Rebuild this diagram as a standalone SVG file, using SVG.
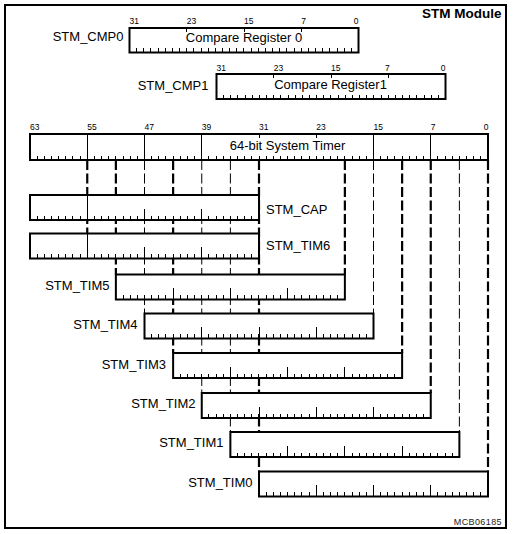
<svg xmlns="http://www.w3.org/2000/svg" xmlns:xlink="http://www.w3.org/1999/xlink" width="515" height="534" viewBox="0 0 515 534">
<style>
text{font-family:"Liberation Sans",Arial,sans-serif;fill:#000}
.lbl{font-size:13px}
.reg{font-size:13px;text-anchor:middle}
.bit{font-size:8.5px}
.end{text-anchor:end}
.box{fill:#fff;stroke:#000;stroke-width:2}
.tk{fill:none;stroke:#000;stroke-width:1;shape-rendering:crispEdges}
.dthick{fill:none;stroke:#000;stroke-width:2.2;stroke-dasharray:10 3.5}
.dthin{fill:none;stroke:#000;stroke-width:1;stroke-dasharray:10 3.5}
</style>
<defs>
<path id="tk32" class="tk" d="M7.156,0v-4.5m7.156,4.5v-4.5m7.156,4.5v-4.5m7.156,4.5v-4.5m7.156,4.5v-4.5m7.156,4.5v-4.5m7.156,4.5v-4.5m7.156,4.5v-4.5m7.156,4.5v-4.5m7.156,4.5v-4.5m7.156,4.5v-4.5m7.156,4.5v-4.5m7.156,4.5v-4.5m7.156,4.5v-4.5m7.156,4.5v-4.5m7.156,4.5v-4.5m7.156,4.5v-4.5m7.156,4.5v-4.5m7.156,4.5v-4.5m7.156,4.5v-4.5m7.156,4.5v-4.5m7.156,4.5v-4.5m7.156,4.5v-4.5m7.156,4.5v-4.5m7.156,4.5v-4.5m7.156,4.5v-4.5m7.156,4.5v-4.5m7.156,4.5v-4.5m7.156,4.5v-4.5m7.156,4.5v-4.5m7.156,4.5v-4.5"/>
<g id="tkTim">
<use xlink:href="#tk32" href="#tk32"/>
<path class="tk" d="M57.25,0v-11.5M114.5,0v-11.5M171.75,0v-11.5"/>
</g>
<path id="tkTop" class="tk" d="M57.25,0v3.5M114.5,0v3.5M171.75,0v3.5"/>
</defs>

<rect id="frame" x="5" y="5" width="501" height="523" fill="none" stroke="#000" stroke-width="2"/>
<text x="501.5" y="18" class="end" style="font-size:13.5px;font-weight:bold">STM Module</text>

<g id="connectors">
<path class="dthick" d="M87.25,160V233.5M115.875,160V274.5M173.125,160V353M259,160V471.5M344.875,160V274.5M402.125,160V353M430.75,160V393M488,160V471.5"/>
<path class="dthin" d="M144.5,160V313.5M201.75,160V393M230.375,160V432M373.5,160V313.5M459.375,160V432"/>
</g>

<g id="stm_cmp0">
<rect class="box" x="129.5" y="28" width="229" height="24.5"/>
<use xlink:href="#tk32" href="#tk32" x="129.5" y="52.5"/>
<use xlink:href="#tkTop" href="#tkTop" x="129.5" y="28"/>
<text class="reg" x="244" y="42">Compare Register 0</text>
<text class="lbl end" x="123.5" y="41">STM_CMP0</text>
<text class="bit" x="129.5" y="24">31</text>
<text class="bit" x="186.75" y="24">23</text>
<text class="bit" x="244" y="24">15</text>
<text class="bit" x="301.25" y="24">7</text>
<text class="bit end" x="358.5" y="24">0</text>
</g>

<g id="stm_cmp1">
<rect class="box" x="216.5" y="74" width="229" height="25"/>
<use xlink:href="#tk32" href="#tk32" x="216.5" y="99"/>
<use xlink:href="#tkTop" href="#tkTop" x="216.5" y="74"/>
<text class="reg" x="330.5" y="89">Compare Register1</text>
<text class="lbl end" x="208.5" y="89.5">STM_CMP1</text>
<text class="bit" x="216.5" y="70.5">31</text>
<text class="bit" x="273.75" y="70.5">23</text>
<text class="bit" x="331" y="70.5">15</text>
<text class="bit" x="385" y="70.5">7</text>
<text class="bit end" x="445.5" y="70.5">0</text>
</g>

<g id="system_timer">
<rect class="box" x="30" y="134" width="458" height="26"/>
<use xlink:href="#tk32" href="#tk32" x="30" y="160"/>
<use xlink:href="#tk32" href="#tk32" x="259" y="160"/>
<path class="tk" d="M259,160v-4.5M87.25,134V160M144.5,134V160M201.75,134V160M373.5,134V160M430.75,134V160M259,134v3.5M316.25,134v3.5"/>
<text class="reg" x="287.5" y="149.5">64-bit System Timer</text>
<text class="bit" x="30" y="130">63</text>
<text class="bit" x="87.25" y="130">55</text>
<text class="bit" x="144.5" y="130">47</text>
<text class="bit" x="201.75" y="130">39</text>
<text class="bit" x="259" y="130">31</text>
<text class="bit" x="316.25" y="130">23</text>
<text class="bit" x="373.5" y="130">15</text>
<text class="bit" x="430.75" y="130">7</text>
<text class="bit end" x="488.5" y="130">0</text>
</g>

<g id="stm_cap">
<rect class="box" x="30" y="195" width="229" height="25"/>
<use xlink:href="#tkTim" href="#tkTim" x="30" y="220"/>
<path class="tk" d="M87.25,195V220"/>
<text class="lbl" x="266" y="213.5">STM_CAP</text>
</g>

<g id="stm_tim6">
<rect class="box" x="30" y="233.5" width="229" height="25"/>
<use xlink:href="#tkTim" href="#tkTim" x="30" y="258.5"/>
<path class="tk" d="M87.25,233.5V258.5"/>
<text class="lbl" x="266" y="249.5">STM_TIM6</text>
</g>

<g id="stm_tim5">
<rect class="box" x="115.875" y="274.5" width="229" height="25"/>
<use xlink:href="#tkTim" href="#tkTim" x="115.875" y="299.5"/>
<text class="lbl end" x="109.5" y="289.5">STM_TIM5</text>
</g>

<g id="stm_tim4">
<rect class="box" x="144.5" y="313.5" width="229" height="25"/>
<use xlink:href="#tkTim" href="#tkTim" x="144.5" y="338.5"/>
<text class="lbl end" x="137.5" y="329">STM_TIM4</text>
</g>

<g id="stm_tim3">
<rect class="box" x="173.125" y="353" width="229" height="25"/>
<use xlink:href="#tkTim" href="#tkTim" x="173.125" y="378"/>
<text class="lbl end" x="166" y="368.5">STM_TIM3</text>
</g>

<g id="stm_tim2">
<rect class="box" x="201.75" y="393" width="229" height="25"/>
<use xlink:href="#tkTim" href="#tkTim" x="201.75" y="418"/>
<text class="lbl end" x="195.5" y="407.5">STM_TIM2</text>
</g>

<g id="stm_tim1">
<rect class="box" x="230.375" y="432" width="229" height="25"/>
<use xlink:href="#tkTim" href="#tkTim" x="230.375" y="457"/>
<text class="lbl end" x="223.5" y="446.5">STM_TIM1</text>
</g>

<g id="stm_tim0">
<rect class="box" x="259" y="471.5" width="229" height="25"/>
<use xlink:href="#tkTim" href="#tkTim" x="259" y="496.5"/>
<text class="lbl end" x="252.5" y="486.5">STM_TIM0</text>
</g>

<text x="502" y="524.5" class="end" style="font-size:9px;letter-spacing:0.4px;fill:#222">MCB06185</text>
</svg>
